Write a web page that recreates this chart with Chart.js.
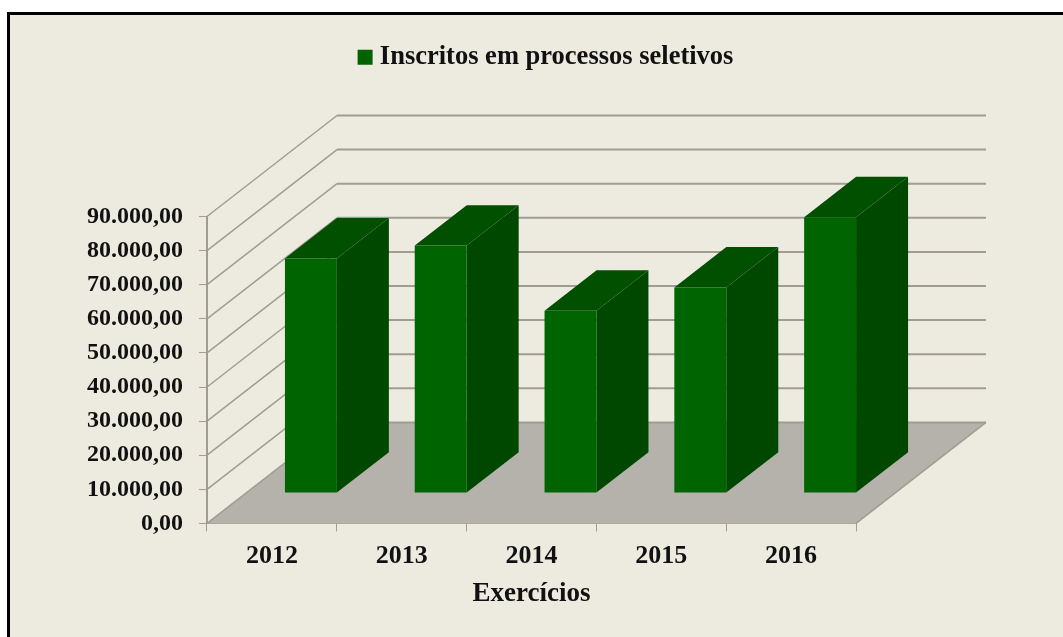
<!DOCTYPE html>
<html>
<head>
<meta charset="utf-8">
<title>Inscritos em processos seletivos</title>
<script src="https://cdn.jsdelivr.net/npm/chart.js@4"></script>
<style>
    html, body { margin: 0; padding: 0; background: #fff; overflow: hidden; }
    #box { position: absolute; left: 7px; top: 12px; right: 0; bottom: 0; border-left: 3px solid #000; border-top: 3px solid #000; background: #edebe0; }
    canvas { position: absolute; left: 0; top: 0; }
</style>
</head>
<body>
<div id="box"></div>
<canvas id="barChart" width="1063" height="637"></canvas>
<script>
const categories = ['2012', '2013', '2014', '2015', '2016'];
const inscritos = [68800, 72600, 53500, 60300, 80900];
const yTicks = [0, 10000, 20000, 30000, 40000, 50000, 60000, 70000, 80000, 90000];

const serif = '"Liberation Serif", serif';
const gridColor = '#a09c92';

// fake 3D: the floor goes 130px right and 101px up from the front edge
const depthX = 130;
const depthY = -101;
// bars stand in the middle 40% of the floor depth
const barStart = 0.3;
const barDepth = 0.4;

function poly(ctx, pts, fill) {
    ctx.beginPath();
    pts.forEach((p, i) => i ? ctx.lineTo(p[0], p[1]) : ctx.moveTo(p[0], p[1]));
    ctx.closePath();
    ctx.fillStyle = fill;
    ctx.fill();
}

const fake3d = {
    id: 'fake3d',
    afterLayout(chart) {
        // legend sits well above the plot and is centred over the whole drawing
        chart.legend.left += 85;
        chart.legend.right += 85;
        chart.legend.top -= 136;
        chart.legend.bottom -= 136;
    },
    beforeDatasetsDraw(chart) {
        const ctx = chart.ctx;
        const x = chart.scales.x;
        const y = chart.scales.y;
        const floorY = y.getPixelForValue(0);
        const left = x.left;
        const right = x.right;

        ctx.save();
        // floor
        poly(ctx, [[left, floorY], [right, floorY], [right + depthX, floorY + depthY], [left + depthX, floorY + depthY]], '#b5b2ab');
        ctx.strokeStyle = gridColor;
        ctx.lineWidth = 1.5;
        ctx.beginPath();
        ctx.moveTo(right, floorY);
        ctx.lineTo(right + depthX, floorY + depthY);
        ctx.stroke();

        // side wall diagonals and back wall lines
        yTicks.forEach(v => {
            const py = y.getPixelForValue(v);
            ctx.lineWidth = 1.5;
            ctx.beginPath();
            ctx.moveTo(left, py);
            ctx.lineTo(left + depthX, py + depthY);
            ctx.stroke();
            ctx.lineWidth = 2;
            ctx.beginPath();
            ctx.moveTo(left + depthX, py + depthY);
            ctx.lineTo(right + depthX, py + depthY);
            ctx.stroke();
        });

        // side and top of every bar
        const dx = depthX * barDepth;
        const dy = depthY * barDepth;
        ctx.translate(depthX * barStart, depthY * barStart);
        chart.getDatasetMeta(0).data.forEach(bar => {
            const l = bar.x - bar.width / 2;
            const r = bar.x + bar.width / 2;
            poly(ctx, [[r, bar.y], [r + dx, bar.y + dy], [r + dx, bar.base + dy], [r, bar.base]], '#004700');
            poly(ctx, [[l, bar.y], [r, bar.y], [r + dx, bar.y + dy], [l + dx, bar.y + dy]], '#005000');
        });
        ctx.restore();

        // front faces are the real bars, pushed back onto the floor
        ctx.save();
        ctx.translate(depthX * barStart, depthY * barStart);
    },
    afterDatasetsDraw(chart) {
        chart.ctx.restore();
    }
};

const ctx1 = document.getElementById('barChart');
const barChart = new Chart(ctx1, {
    type: 'bar',
    data: {
        labels: categories,
        datasets: [{
            label: 'Inscritos em processos seletivos',
            data: inscritos,
            backgroundColor: '#006400',
            borderWidth: 0,
            barPercentage: 0.4,
            categoryPercentage: 1,
            clip: false
        }]
    },
    options: {
        responsive: false,
        animation: false,
        layout: {
            padding: { left: 71, right: 207, top: 180, bottom: 29.4 }
        },
        plugins: {
            tooltip: { enabled: false },
            legend: {
                position: 'top',
                labels: {
                    color: '#111',
                    font: { family: serif, weight: 'bold', size: 26.5 },
                    boxWidth: 3,
                    boxHeight: 3,
                    padding: 0,
                    generateLabels(chart) {
                        return Chart.defaults.plugins.legend.labels.generateLabels(chart).map(item => {
                            item.strokeStyle = '#006400';
                            item.lineWidth = 12;
                            return item;
                        });
                    }
                }
            }
        },
        scales: {
            x: {
                offset: true,
                border: { color: gridColor, width: 2 },
                grid: { offset: true, drawOnChartArea: false, color: gridColor, tickLength: 8, tickWidth: 1 },
                ticks: { color: '#111', padding: 9, maxRotation: 0, font: { family: serif, weight: 'bold', size: 26 } },
                title: {
                    display: true,
                    text: 'Exercícios',
                    color: '#111',
                    padding: { top: 0, bottom: 0 },
                    font: { family: serif, weight: 'bold', size: 27, lineHeight: 1 }
                }
            },
            y: {
                min: 0,
                max: 90000,
                border: { color: gridColor, width: 2 },
                grid: { drawOnChartArea: false, color: gridColor, tickLength: 8, tickWidth: 1 },
                afterBuildTicks(axis) {
                    axis.ticks = yTicks.map(v => ({ value: v }));
                },
                ticks: {
                    color: '#111',
                    padding: 16,
                    font: { family: serif, weight: 'bold', size: 24 },
                    callback: v => v.toLocaleString('pt-BR', { minimumFractionDigits: 2, maximumFractionDigits: 2 })
                }
            }
        }
    },
    plugins: [fake3d]
});
</script>
</body>
</html>
